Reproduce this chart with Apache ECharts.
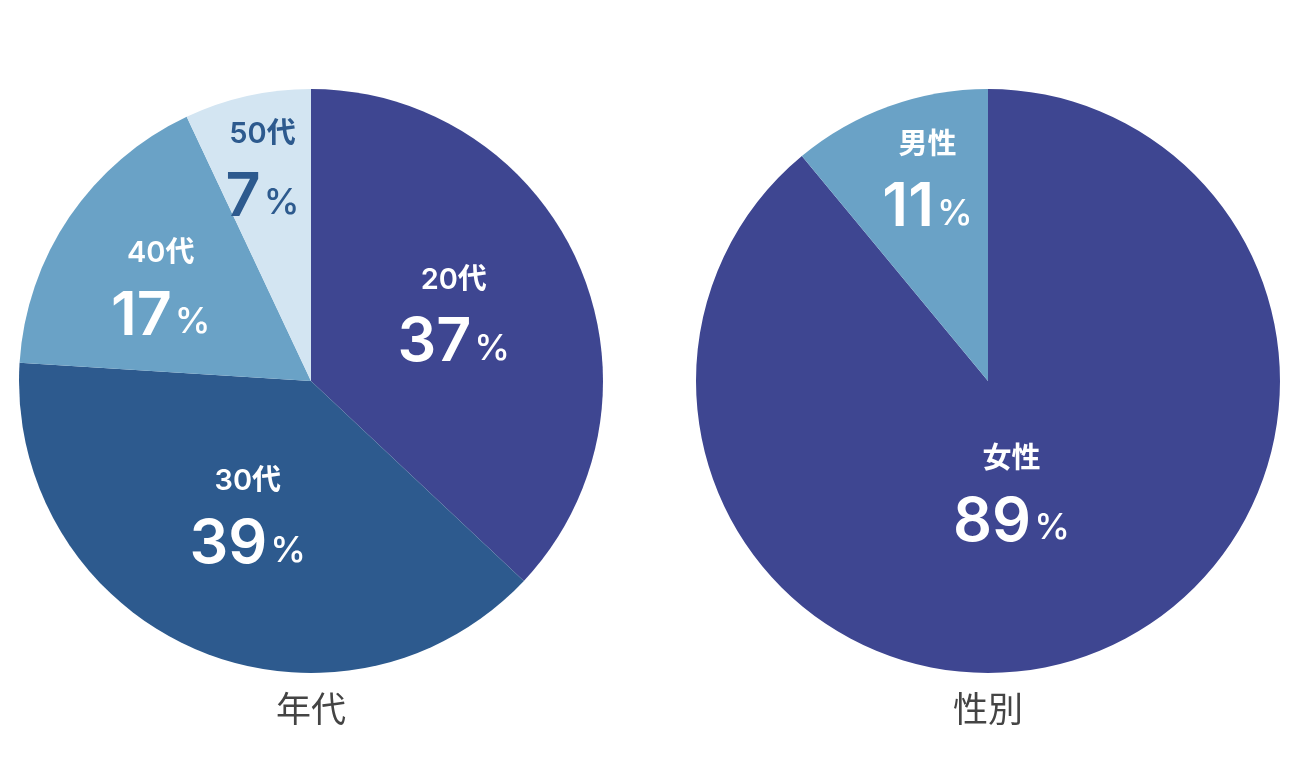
<!DOCTYPE html>
<html><head><meta charset="utf-8">
<script src="https://cdn.jsdelivr.net/npm/echarts@6/dist/echarts.min.js"></script>
<style>html,body{margin:0;padding:0;background:#fff}#c{width:1299px;height:763px}</style>
</head><body><div id="c"></div>
<script>
const ageCategories = ['20代', '30代', '40代', '50代'];
const ageValues = [37, 39, 17, 7];
const genderCategories = ['女性', '男性'];
const genderValues = [89, 11];
const chartTitles = ['年代', '性別'];

const ageColors = ['#3e4691', '#2d5a8e', '#6aa2c6', '#d3e5f2'];
const ageLabelColors = ['#fff', '#fff', '#fff', '#2d5a8e'];
const ageLabelOffsets = [[6, -9], [-4, -3], [-27, -11], [-16, -68]];
const genderColors = ['#3e4691', '#6aa2c6'];
const genderLabelOffsets = [[-27, -29], [-10, -63]];

const font = '"Noto Sans CJK JP", "Noto Sans", sans-serif';
const numFont = 'Inter, "Noto Sans CJK JP", sans-serif';
function richFor(color) {
  return {
    n: { fontSize: 29, fontWeight: 600, color: color, fontFamily: numFont, lineHeight: 60 },
    p: { fontSize: 61, fontWeight: 600, color: color, fontFamily: numFont, lineHeight: 66 },
    s: { fontSize: 36, fontWeight: 500, color: color, fontFamily: numFont, lineHeight: 66, padding: [12, 0, 0, 3] }
  };
}
function buildData(cats, vals, colors, labelColors, offsets) {
  return cats.map((c, i) => ({
    name: c, value: vals[i],
    itemStyle: { color: colors[i] },
    label: { offset: offsets[i], rich: richFor(labelColors[i]) }
  }));
}
const labelBase = {
  show: true, position: 'inner',
  formatter: '{n|{b}}\n{p|{c}}{s|%}'
};
const chart = echarts.init(document.getElementById('c'));
chart.setOption({
  animation: false,
  title: [
    { text: chartTitles[0], left: 311, top: 691, textAlign: 'center', padding: 0,
      textStyle: { fontSize: 35, fontWeight: 'normal', color: '#444', fontFamily: font } },
    { text: chartTitles[1], left: 988, top: 691, textAlign: 'center', padding: 0,
      textStyle: { fontSize: 35, fontWeight: 'normal', color: '#444', fontFamily: font } }
  ],
  series: [
    { type: 'pie', center: [311, 381], radius: [0, 292], startAngle: 90, clockwise: true,
      label: labelBase, labelLine: { show: false }, emphasis: { disabled: true },
      data: buildData(ageCategories, ageValues, ageColors, ageLabelColors, ageLabelOffsets) },
    { type: 'pie', center: [988, 381], radius: [0, 292], startAngle: 90, clockwise: true,
      label: labelBase, labelLine: { show: false }, emphasis: { disabled: true },
      data: buildData(genderCategories, genderValues, genderColors, ['#fff', '#fff'], genderLabelOffsets) }
  ]
});
</script></body></html>
